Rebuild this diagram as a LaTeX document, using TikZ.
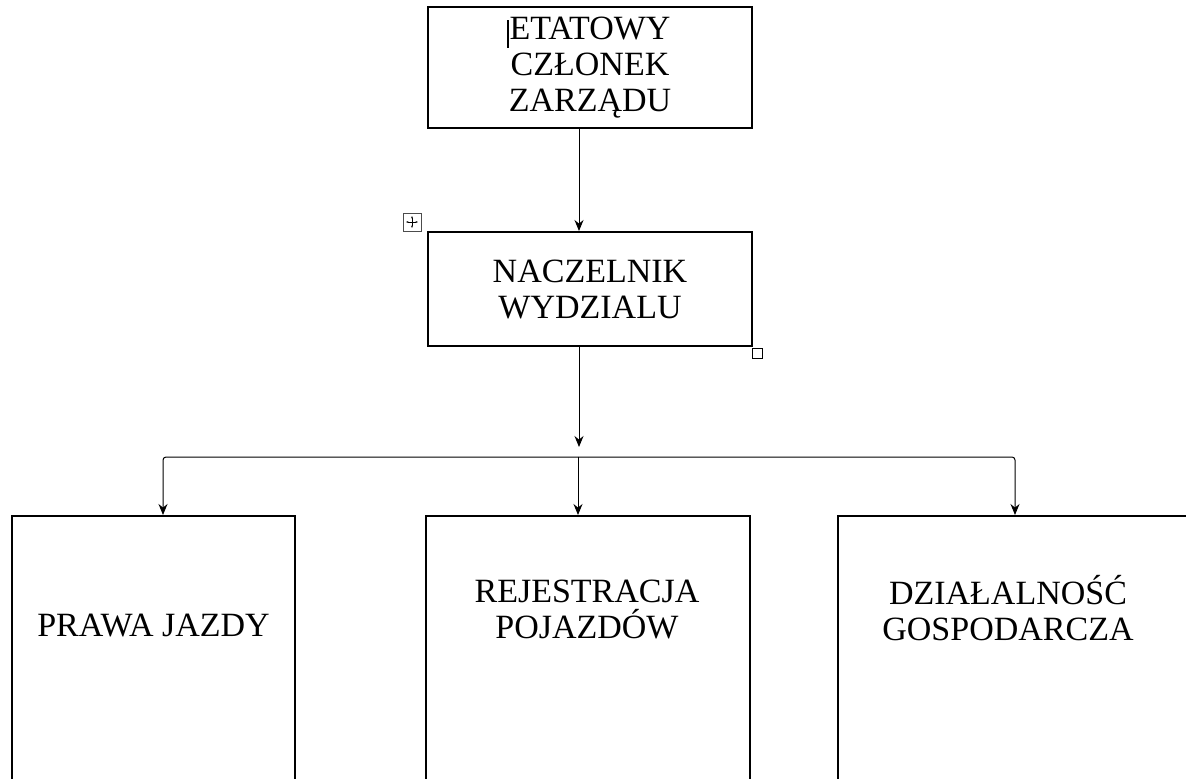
\documentclass[tikz,border=0pt]{standalone}
\usepackage{fontspec}
\setmainfont{Liberation Serif}
\usetikzlibrary{arrows.meta}
\begin{document}
\begin{tikzpicture}[x=1pt,y=-1pt,
        box/.style={draw,line width=2pt,font=\fontsize{34}{36}\selectfont,align=center,inner sep=0pt},
        opis/.style={font=\fontsize{34}{36}\selectfont,align=center,inner sep=0pt},
        arrow/.style={-{Stealth[length=11pt,width=9pt]},line width=1pt}]
        \useasboundingbox (0,0) rectangle (1186,779);
        \node[box,minimum width=324pt,minimum height=121pt] (czlonek) at (590,67.5) {ETATOWY\\CZŁONEK\\ZARZĄDU};
        \node[box,minimum width=324pt,minimum height=114pt] (naczelnik) at (590,289) {NACZELNIK\\WYDZIALU};
        \node[box,minimum width=283pt,minimum height=300pt,anchor=north] (prawa) at (153.5,515) {};
        \node[box,minimum width=324pt,minimum height=300pt,anchor=north] (rejestracja) at (588,515) {};
        \node[box,minimum width=357pt,minimum height=300pt,anchor=north] (gosp) at (1016.5,515) {};
        \node[opis] (prawa-t) at (153.5,626) {PRAWA JAZDY};
        \node[opis] (rejestracja-t) at (587,609) {REJESTRACJA\\POJAZDÓW};
        \node[opis] (gosp-t) at (1008,608) {DZIAŁALNOŚĆ\\GOSPODARCZA};
        \coordinate (rozgal) at (579,447);
        \coordinate (szyna) at (578,457);
        \draw[arrow] ([xshift=-11pt]czlonek.south) -- ([xshift=-11pt]naczelnik.north);
        \draw[arrow] ([xshift=-11pt]naczelnik.south) -- (rozgal);
        \draw[arrow,rounded corners=3pt] (szyna) -| ([xshift=9.5pt]prawa.north);
        \draw[arrow,rounded corners=3pt] (szyna) -| ([xshift=-1.5pt]gosp.north);
        \draw[arrow] (szyna) -- ([xshift=-10pt]rejestracja.north);
        \draw[line width=1.6pt] (508,20) -- (508,48);
        \draw[line width=0.7pt,gray!60!black] (403,213) rectangle (421,231);
        \draw[{Stealth[length=2.5pt]}-{Stealth[length=2.5pt]},line width=0.6pt] (406,222) -- (418,222);
        \draw[{Stealth[length=2.5pt]}-{Stealth[length=2.5pt]},line width=0.6pt] (412,216) -- (412,228);
        \draw[line width=0.8pt] (752,348) rectangle (762,358);
    \end{tikzpicture}
\end{document}
